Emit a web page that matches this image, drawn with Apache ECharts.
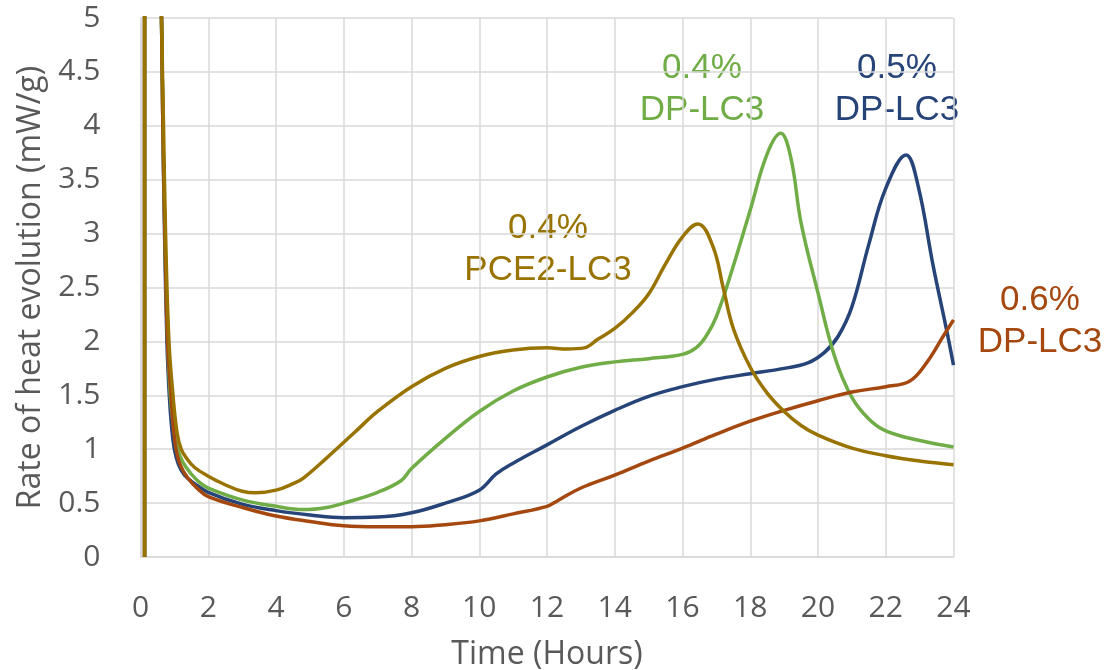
<!DOCTYPE html>
<html>
<head>
<meta charset="utf-8">
<script src="https://cdn.jsdelivr.net/npm/echarts@6/dist/echarts.min.js"></script>
<style>
  html, body { margin: 0; padding: 0; background: #fff; }
  #chart { width: 1118px; height: 670px; }
</style>
</head>
<body>
<div id="chart"></div>
<script>
// [hours, mW/g]
const pce2Lc3_04 = [
  [0.12, 0], [0.13, 30], [0.45, 8], [0.62, 5], [0.68, 4], [0.74, 3], [0.84, 2], [0.96, 1.5],
  [1.08, 1.15], [1.2, 1.0], [1.35, 0.92], [1.6, 0.83], [2, 0.75], [2.5, 0.67], [3, 0.61],
  [3.4, 0.595], [4, 0.62], [4.5, 0.68], [4.8, 0.73], [5.5, 0.92], [6.3, 1.15], [7, 1.35],
  [8, 1.58], [9, 1.75], [10, 1.86], [11, 1.92], [12, 1.94], [12.6, 1.93], [13.1, 1.94],
  [13.5, 2.02], [14, 2.12], [14.5, 2.26], [15, 2.44], [15.5, 2.72], [16, 2.97], [16.45, 3.09],
  [16.9, 2.88], [17.2, 2.5], [17.5, 2.12], [18, 1.76], [18.5, 1.52], [19, 1.35], [19.5, 1.22],
  [20, 1.13], [21, 1.01], [22, 0.94], [23, 0.89], [24, 0.855]
]

const dpLc3_04 = [
  [0.12, 0], [0.13, 30], [0.45, 8], [0.62, 5], [0.66, 4], [0.72, 3], [0.8, 2], [0.88, 1.5],
  [0.98, 1.2], [1.1, 1.0], [1.25, 0.88], [1.5, 0.77], [1.75, 0.69], [2, 0.64], [3, 0.53],
  [4, 0.47], [4.8, 0.44], [5.5, 0.46], [6, 0.5], [7, 0.6], [7.7, 0.71], [8, 0.82], [9, 1.1],
  [10, 1.35], [11, 1.54], [12, 1.67], [13, 1.76], [14, 1.81], [15, 1.84], [16, 1.88],
  [16.4, 1.94], [16.7, 2.05], [17, 2.23], [17.5, 2.7], [18, 3.22], [18.5, 3.74], [18.9, 3.93],
  [19.2, 3.7], [19.5, 3.1], [20, 2.45], [20.5, 1.85], [21, 1.48], [21.5, 1.28], [22, 1.17],
  [23, 1.08], [24, 1.02]
]

const dpLc3_05 = [
  [0.12, 0], [0.13, 30], [0.45, 8], [0.62, 5], [0.66, 4], [0.71, 3], [0.78, 2], [0.85, 1.5],
  [0.92, 1.2], [1.0, 1.0], [1.12, 0.86], [1.3, 0.76], [1.6, 0.68], [2, 0.6], [3, 0.49],
  [4, 0.43], [5, 0.39], [6, 0.365], [7, 0.37], [8, 0.41], [9, 0.5], [10, 0.62], [10.5, 0.77],
  [11, 0.87], [12, 1.04], [13, 1.21], [14, 1.36], [15, 1.49], [16, 1.58], [17, 1.65],
  [18, 1.7], [19, 1.75], [19.7, 1.8], [20.2, 1.9], [20.6, 2.05], [21, 2.32], [21.5, 2.9],
  [22, 3.42], [22.6, 3.73], [22.95, 3.45], [23.4, 2.7], [23.8, 2.1], [24, 1.78]
]

const dpLc3_06 = [
  [0.12, 0], [0.13, 30], [0.45, 8], [0.62, 5], [0.66, 4], [0.72, 3], [0.8, 2], [0.9, 1.5],
  [0.97, 1.2], [1.05, 1.0], [1.18, 0.85], [1.4, 0.73], [1.7, 0.63], [2, 0.56], [3, 0.46],
  [4, 0.38], [5, 0.33], [6, 0.29], [7, 0.28], [8, 0.28], [9, 0.3], [10, 0.335], [11, 0.4],
  [12, 0.47], [12.3, 0.52], [13, 0.64], [14, 0.76], [15, 0.89], [16, 1.01], [17, 1.14],
  [18, 1.26], [19, 1.36], [20, 1.45], [21, 1.53], [22, 1.58], [22.7, 1.63], [23.2, 1.8],
  [23.7, 2.05], [24, 2.2]
]

const seriesNames = ['0.5% DP-LC3', '0.4% DP-LC3', '0.6% DP-LC3', '0.4% PCE2-LC3']
const seriesData = [dpLc3_05, dpLc3_04, dpLc3_06, pce2Lc3_04]
const colors = ['#264478', '#70AD47', '#A5480F', '#997300']

// annotation text, one per series
const notes = [
  { text: '0.5%\nDP-LC3', x: 897, y: 89 },
  { text: '0.4%\nDP-LC3', x: 702, y: 89 },
  { text: '0.6%\nDP-LC3', x: 1040, y: 321 },
  { text: '0.4%\nPCE2-LC3', x: 548, y: 249 }
]

const axisFont = '"Open Sans", sans-serif'
const chart = echarts.init(document.getElementById('chart'))

const option = {
  animation: false,
  grid: { left: 140.5, right: 164.5, top: 18, bottom: 113, outerBoundsMode: 'none' },
  xAxis: {
    type: 'value',
    min: 0,
    max: 24,
    interval: 2,
    name: 'Time (Hours)',
    nameLocation: 'middle',
    nameGap: 82,
    nameTextStyle: { fontSize: 32, color: '#595959', fontFamily: axisFont },
    axisLine: { show: true, lineStyle: { color: '#d9d9d9', width: 1.5 } },
    axisTick: { show: false },
    axisLabel: { fontSize: 30, color: '#595959', fontFamily: axisFont, margin: 36 },
    splitLine: { show: true, lineStyle: { color: '#d9d9d9', width: 1.5 } }
  },
  yAxis: {
    type: 'value',
    min: 0,
    max: 5,
    interval: 0.5,
    name: 'Rate of heat evolution (mW/g)',
    nameLocation: 'middle',
    nameGap: 94,
    nameTextStyle: { fontSize: 32, color: '#595959', fontFamily: axisFont },
    axisLine: { show: true, lineStyle: { color: '#d9d9d9', width: 1.5 } },
    axisTick: { show: false },
    axisLabel: { fontSize: 30, color: '#595959', fontFamily: axisFont, margin: 40 },
    splitLine: { show: true, lineStyle: { color: '#d9d9d9', width: 1.5 } }
  },
  series: seriesData.map((data, i) => ({
    name: seriesNames[i],
    type: 'line',
    data: data,
    smooth: 0.4,
    showSymbol: false,
    clip: true,
    lineStyle: { color: colors[i], width: 3.5 },
    itemStyle: { color: colors[i] }
  })),
  graphic: notes.map((n, i) => ({
    type: 'text',
    x: n.x,
    y: n.y,
    style: {
      text: n.text,
      fill: colors[i],
      font: '35px "Liberation Sans", Arial, sans-serif',
      align: 'center',
      verticalAlign: 'middle',
      lineHeight: 42
    }
  }))
}

chart.setOption(option)
</script>
</body>
</html>
